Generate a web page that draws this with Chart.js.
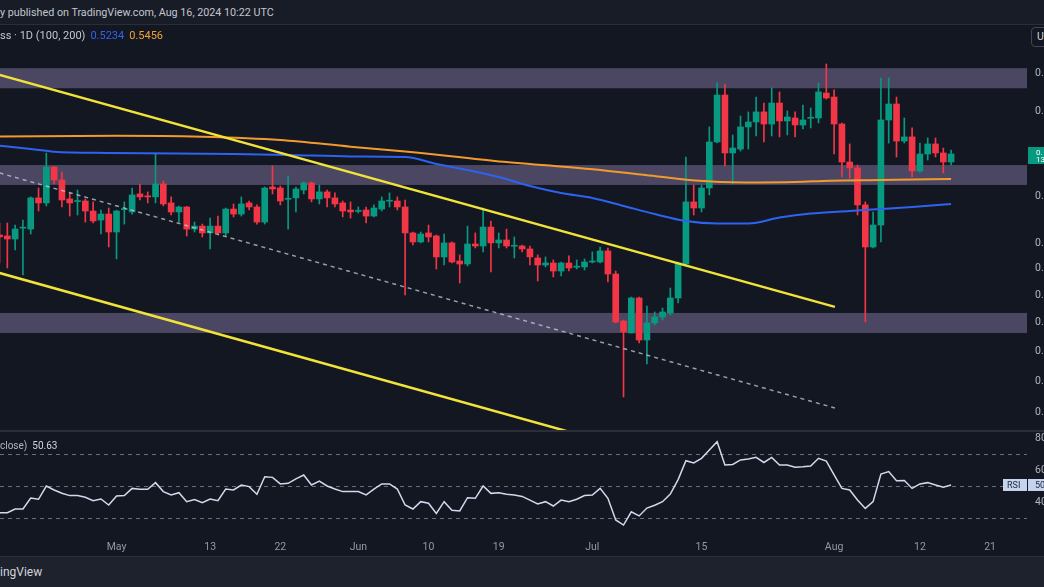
<!DOCTYPE html>
<html lang="en">
<head>
<meta charset="UTF-8" />
<title>XRP 1D</title>
<script src="https://cdn.jsdelivr.net/npm/chart.js"></script>
<style>
  body {
    margin: 0;
    width: 1044px;
    height: 587px;
    overflow: hidden;
    position: relative;
    background: #131722;
    font-family: Roboto, 'Liberation Sans', sans-serif;
    color: #b2b5be;
  }
  .abs { position: absolute; white-space: nowrap; }
  #top {
    left: 0; top: 0; width: 1044px; height: 25px;
    background: #181c27; border-bottom: 1px solid #2a2e39; box-sizing: border-box;
    font-size: 10.75px; line-height: 25px; color: #c3c6ce;
  }
  #legend { left: 0; top: 29px; font-size: 11px; line-height: 14px; color: #c3c6ce; z-index: 2; }
  #legend .blue { color: #3461f0; margin-left: 5px; }
  #legend .orange { color: #f5a033; margin-left: 5px; }
  #ubtn {
    left: 1031px; top: 27px; width: 22px; height: 20px; box-sizing: border-box;
    border: 1px solid #434651; border-radius: 4px; background: #131722;
    font-size: 10.5px; line-height: 18px; padding-left: 5px; color: #d1d4dc; z-index: 2;
  }
  #sep { left: 0; top: 430px; width: 1044px; height: 2px; background: #2a2e39; }
  #rsiLegend { left: 0; top: 439px; font-size: 10px; line-height: 13px; color: #b2b5be; z-index: 2; }
  #rsiLegend b { font-weight: normal; color: #d1d4dc; margin-left: 5px; }
  #foot {
    left: 0; top: 556px; width: 1044px; height: 31px;
    background: #1e222d; border-top: 1px solid #2a2e39; box-sizing: border-box;
    font-size: 12px; line-height: 30px; color: #d1d4dc;
  }
</style>
</head>
<body>

<div id="top" class="abs">y published on TradingView.com, Aug 16, 2024 10:22 UTC</div>
<div id="legend" class="abs">ss · 1D (100, 200)<span class="blue">0.5234</span><span class="orange">0.5456</span></div>
<div id="ubtn" class="abs">U</div>
<canvas id="priceChart" class="abs" width="1044" height="405" style="left:0;top:25px"></canvas>
<div id="sep" class="abs"></div>
<div id="rsiLegend" class="abs">close)<b>50.63</b></div>
<canvas id="rsiChart" class="abs" width="1044" height="124" style="left:0;top:432px"></canvas>
<div id="foot" class="abs">ingView</div>

<script>
  // daily candles, Apr 16 -> Aug 16 2024
  const firstDate = '2024-04-16';

  const open = [
    0.4971, 0.4963, 0.4938, 0.5028, 0.5020, 0.5287, 0.5243, 0.5566, 0.5447, 0.5278,
    0.5255, 0.5260, 0.5173, 0.5096, 0.5147, 0.4996, 0.5185, 0.5165, 0.5322, 0.5305,
    0.5296, 0.5411, 0.5243, 0.5165, 0.5208, 0.5020, 0.5045, 0.4988, 0.5045, 0.4988,
    0.5190, 0.5147, 0.5243, 0.5208, 0.5079, 0.5384, 0.5375, 0.5275, 0.5287, 0.5357,
    0.5420, 0.5278, 0.5340, 0.5287, 0.5243, 0.5182, 0.5170, 0.5182, 0.5130, 0.5190,
    0.5258, 0.5260, 0.5208, 0.4988, 0.4914, 0.4988, 0.4963, 0.4793, 0.4906, 0.4761,
    0.4737, 0.4897, 0.4881, 0.5037, 0.4906, 0.4930, 0.4879, 0.4881, 0.4857, 0.4785,
    0.4729, 0.4745, 0.4682, 0.4745, 0.4712, 0.4714, 0.4753, 0.4753, 0.4841, 0.4659,
    0.4309, 0.4224, 0.4477, 0.4175, 0.4295, 0.4338, 0.4367, 0.4477, 0.4737, 0.5252,
    0.5199, 0.5375, 0.5802, 0.6273, 0.5697, 0.5734, 0.5949, 0.5998, 0.6099, 0.5978,
    0.6190, 0.6008, 0.6038, 0.5968, 0.6035, 0.6038, 0.6294, 0.6252, 0.5978, 0.5612,
    0.5557, 0.5226, 0.4873, 0.5054, 0.6018, 0.6180, 0.5811, 0.5851, 0.5529, 0.5687,
    0.5783, 0.5697, 0.5612
  ];
  const high = [
    0.5071, 0.5071, 0.5054, 0.5096, 0.5296, 0.5375, 0.5696, 0.5570, 0.5519, 0.5331,
    0.5357, 0.5278, 0.5252, 0.5182, 0.5199, 0.5180, 0.5252, 0.5375, 0.5411, 0.5340,
    0.5696, 0.5438, 0.5296, 0.5215, 0.5212, 0.5079, 0.5062, 0.5113, 0.5130, 0.5199,
    0.5234, 0.5296, 0.5260, 0.5226, 0.5384, 0.5575, 0.5393, 0.5483, 0.5384, 0.5429,
    0.5429, 0.5402, 0.5357, 0.5331, 0.5260, 0.5252, 0.5208, 0.5208, 0.5226, 0.5296,
    0.5331, 0.5296, 0.5269, 0.4996, 0.4996, 0.5054, 0.4971, 0.4979, 0.4914, 0.4809,
    0.5045, 0.4988, 0.5199, 0.5088, 0.4988, 0.5020, 0.4955, 0.4889, 0.4881, 0.4809,
    0.4793, 0.4769, 0.4753, 0.4801, 0.4769, 0.4777, 0.4833, 0.4873, 0.4865, 0.4682,
    0.4316, 0.4484, 0.4484, 0.4418, 0.4374, 0.4403, 0.4552, 0.4753, 0.5659, 0.5402,
    0.5402, 0.5949, 0.6400, 0.6389, 0.5870, 0.6058, 0.6099, 0.6252, 0.6190, 0.6347,
    0.6305, 0.6109, 0.6099, 0.6170, 0.6139, 0.6400, 0.6605, 0.6326, 0.5988, 0.5783,
    0.5584, 0.5252, 0.5165, 0.6453, 0.6453, 0.6252, 0.6038, 0.5939, 0.5792, 0.5841,
    0.5841, 0.5744, 0.5725
  ];
  const low = [
    0.4745, 0.4706, 0.4849, 0.4651, 0.4979, 0.5173, 0.5217, 0.5411, 0.5208, 0.5130,
    0.5139, 0.5079, 0.5071, 0.4979, 0.4873, 0.4777, 0.5062, 0.5147, 0.5269, 0.5243,
    0.5243, 0.5217, 0.5139, 0.5079, 0.4963, 0.4996, 0.4955, 0.4857, 0.4979, 0.4963,
    0.5122, 0.5130, 0.5182, 0.5062, 0.5062, 0.5322, 0.5226, 0.5020, 0.5165, 0.5322,
    0.5252, 0.5234, 0.5208, 0.5208, 0.5122, 0.5113, 0.5156, 0.5071, 0.5122, 0.5173,
    0.5208, 0.5182, 0.4499, 0.4889, 0.4906, 0.4914, 0.4698, 0.4729, 0.4745, 0.4590,
    0.4721, 0.4865, 0.4833, 0.4675, 0.4865, 0.4865, 0.4785, 0.4833, 0.4729, 0.4605,
    0.4714, 0.4636, 0.4644, 0.4682, 0.4698, 0.4690, 0.4745, 0.4745, 0.4598, 0.4295,
    0.3798, 0.4224, 0.4155, 0.4012, 0.4281, 0.4316, 0.4352, 0.4440, 0.4729, 0.5139,
    0.5165, 0.5313, 0.5792, 0.5575, 0.5411, 0.5715, 0.5734, 0.5860, 0.5802, 0.5860,
    0.5851, 0.5870, 0.5851, 0.5929, 0.5939, 0.5988, 0.6231, 0.5687, 0.5474, 0.5465,
    0.5139, 0.4302, 0.4865, 0.4914, 0.5792, 0.5659, 0.5792, 0.5474, 0.5519, 0.5631,
    0.5659, 0.5510, 0.5584
  ];
  const close = [
    0.4955, 0.4938, 0.5020, 0.5030, 0.5287, 0.5243, 0.5566, 0.5447, 0.5269, 0.5243,
    0.5260, 0.5173, 0.5088, 0.5147, 0.4996, 0.5173, 0.5190, 0.5313, 0.5296, 0.5296,
    0.5411, 0.5234, 0.5165, 0.5208, 0.5020, 0.5045, 0.4988, 0.5045, 0.4988, 0.5190,
    0.5147, 0.5234, 0.5208, 0.5079, 0.5375, 0.5366, 0.5260, 0.5280, 0.5366, 0.5420,
    0.5278, 0.5340, 0.5287, 0.5234, 0.5173, 0.5165, 0.5175, 0.5130, 0.5199, 0.5260,
    0.5262, 0.5208, 0.4988, 0.4914, 0.4979, 0.4955, 0.4793, 0.4906, 0.4753, 0.4737,
    0.4897, 0.4881, 0.5037, 0.4906, 0.4930, 0.4881, 0.4883, 0.4857, 0.4793, 0.4729,
    0.4745, 0.4682, 0.4745, 0.4706, 0.4716, 0.4753, 0.4761, 0.4841, 0.4659, 0.4302,
    0.4231, 0.4477, 0.4175, 0.4295, 0.4338, 0.4374, 0.4477, 0.4745, 0.5252, 0.5199,
    0.5375, 0.5802, 0.6273, 0.5697, 0.5744, 0.5949, 0.5998, 0.6099, 0.5978, 0.6190,
    0.6008, 0.6048, 0.5968, 0.6018, 0.6040, 0.6305, 0.6242, 0.5978, 0.5612, 0.5557,
    0.5226, 0.4873, 0.5054, 0.6018, 0.6180, 0.5811, 0.5851, 0.5529, 0.5687, 0.5783,
    0.5697, 0.5612, 0.5687
  ];
  // RSI (14, close)
  const rsi = [
    33.3, 33.3, 35.6, 35.6, 42.5, 41.7, 50.0, 47.5, 45.5, 44.0,
    44.0, 43.0, 40.8, 41.9, 38.1, 43.7, 44.0, 48.5, 47.9, 47.9,
    52.1, 46.5, 44.4, 45.8, 40.2, 41.5, 39.6, 41.9, 40.8, 48.1,
    47.5, 50.6, 49.6, 44.8, 55.8, 55.4, 51.3, 51.7, 54.5, 56.9,
    50.6, 53.1, 50.0, 48.1, 46.5, 46.5, 46.5, 44.4, 48.0, 51.3,
    51.3, 48.1, 38.1, 35.6, 40.2, 39.2, 32.9, 40.2, 34.8, 34.4,
    42.7, 42.3, 50.0, 45.4, 45.8, 44.8, 44.4, 43.5, 41.2, 38.8,
    40.2, 37.5, 41.2, 40.2, 41.7, 44.0, 44.4, 48.5, 42.3, 28.8,
    25.6, 33.9, 31.3, 36.2, 38.0, 40.2, 45.0, 54.0, 65.8, 64.4,
    67.3, 72.5, 77.7, 63.1, 63.5, 66.3, 66.9, 67.9, 64.7, 67.9,
    63.1, 63.1, 61.7, 62.0, 62.5, 67.3, 65.6, 56.9, 48.5, 47.5,
    41.2, 36.0, 40.2, 57.5, 59.0, 53.3, 53.5, 48.5, 51.3, 52.1,
    50.6, 49.2, 50.63
  ];

  // moving averages: [day from May 1, value]
  const ma100 = [
    [-15, 0.5766], [-11, 0.5735], [-8, 0.5709], [-1, 0.5697], [15, 0.5687], [22, 0.5678],
    [30, 0.5664], [37, 0.5659], [41, 0.5594], [45, 0.5538], [49, 0.5474], [53, 0.5393],
    [57, 0.5331], [61, 0.5287], [65, 0.5217], [69, 0.5147], [73, 0.5088], [77, 0.5067],
    [81, 0.5067], [85, 0.5117], [89, 0.5151], [94, 0.5173], [98, 0.5190], [102, 0.5208], [107, 0.5234]
  ];
  const ma200 = [
    [-15, 0.5855], [0, 0.5863], [11, 0.5853], [21, 0.5821], [30, 0.5757], [37, 0.5711],
    [48.5, 0.5622], [60.7, 0.5547], [67.8, 0.5493], [74.2, 0.5442], [80.6, 0.5425],
    [87, 0.5429], [91.5, 0.5441], [98, 0.5447], [107, 0.5456]
  ];

  // drawings
  const trendUpper = [[-15, 0.6486], [92.1, 0.4411]];
  const trendLower = [[-15, 0.4667], [62, 0.3533]];
  const channelMid = [[-15, 0.5511], [92.1, 0.3729]];
  const zones = [[0.6344, 0.6559], [0.5402, 0.5584], [0.4224, 0.4367]];

  const priceTicks = [0.65, 0.61, 0.53, 0.49, 0.47, 0.45, 0.43, 0.41, 0.39, 0.37];
  const rsiTicks = [80, 60, 40];
  const rsiLevels = [70, 50, 30];
  const tickDays = [0, 12, 21, 31, 40, 49, 61, 75, 92, 103, 112];
  const tickLabels = ['May', '13', '22', 'Jun', '10', '19', 'Jul', '15', 'Aug', '12', '21'];

  const X_MIN = -14.94, X_MAX = 116.73;
  const P_MIN = 0.3595, P_MAX = 0.7047;
  const UP = '#089981', DOWN = '#f23645';
  const FONT = "Roboto, 'Liberation Sans', sans-serif";

  const offset = Math.round((Date.UTC(2024, 3, 16) - Date.UTC(2024, 4, 1)) / 864e5);
  const days = open.map((_, i) => offset + i);
  const colors = open.map((o, i) => close[i] >= o ? UP : DOWN);
  const pts = arr => arr.map(p => ({ x: p[0], y: p[1] }));

  function tightY(scale) {
    scale.width = 17;
    scale.paddingTop = 0;
    scale.paddingBottom = 0;
  }

  const zonePlugin = {
    id: 'zones',
    beforeDatasetsDraw(chart) {
      const { ctx, chartArea: a, scales: { y } } = chart;
      ctx.save();
      ctx.fillStyle = '#4b4763';
      zones.forEach(([lo, hi]) => {
        const y1 = y.getPixelForValue(hi), y2 = y.getPixelForValue(lo);
        ctx.fillRect(a.left, y1, a.right - a.left, y2 - y1);
      });
      ctx.restore();
    },
    afterDraw(chart) {
      // last price tag on the price scale
      const { ctx, chartArea: a, scales: { y } } = chart;
      const py = y.getPixelForValue(close[close.length - 1]);
      ctx.save();
      ctx.fillStyle = UP;
      ctx.fillRect(a.right + 1, py - 7, 20, 17);
      ctx.fillStyle = '#ffffff';
      ctx.font = '8px ' + FONT;
      ctx.textBaseline = 'middle';
      ctx.fillText('0.', a.right + 9, py - 1);
      ctx.fillText('13', a.right + 9, py + 5.5);
      ctx.restore();
    }
  };

  new Chart(document.getElementById('priceChart'), {
    type: 'bar',
    data: {
      datasets: [
        { type: 'line', data: pts(trendUpper), borderColor: '#f2e33a', borderWidth: 2.5, pointRadius: 0, order: 0 },
        { type: 'line', data: pts(trendLower), borderColor: '#f2e33a', borderWidth: 2.5, pointRadius: 0, order: 0 },
        { type: 'line', data: pts(channelMid), borderColor: 'rgba(200,204,216,0.75)', borderWidth: 1.5,
          borderDash: [4, 4], pointRadius: 0, order: 0 },
        { type: 'line', data: pts(ma100), borderColor: '#2e62f0', borderWidth: 2, pointRadius: 0,
          cubicInterpolationMode: 'monotone', order: 0 },
        { type: 'line', data: pts(ma200), borderColor: '#f39a2e', borderWidth: 2, pointRadius: 0,
          cubicInterpolationMode: 'monotone', order: 0 },
        { data: days.map((d, i) => ({ x: d, y: [open[i], close[i]] })), backgroundColor: colors,
          barThickness: 6, minBarLength: 1, grouped: false, order: 1 },
        { data: days.map((d, i) => ({ x: d, y: [low[i], high[i]] })), backgroundColor: colors,
          barThickness: 1, grouped: false, order: 2 }
      ]
    },
    options: {
      responsive: false,
      animation: false,
      devicePixelRatio: 1,
      layout: { padding: 0 },
      plugins: { legend: { display: false }, tooltip: { enabled: false } },
      scales: {
        x: { type: 'linear', min: X_MIN, max: X_MAX, offset: false, display: false },
        y: {
          type: 'logarithmic', position: 'right', min: P_MIN, max: P_MAX,
          grid: { display: false, drawTicks: false }, border: { display: false },
          afterFit: tightY,
          afterBuildTicks: s => { s.ticks = priceTicks.map(v => ({ value: v })); },
          ticks: {
            autoSkip: false, padding: 8, color: '#b2b5be', font: { family: FONT, size: 10.5 },
            callback: v => v.toFixed(4).slice(0, 2)   // cut off by the picture edge
          }
        }
      }
    },
    plugins: [zonePlugin]
  });

  const rsiPlugin = {
    id: 'rsiBands',
    beforeDatasetsDraw(chart) {
      const { ctx, chartArea: a, scales: { y } } = chart;
      ctx.save();
      ctx.strokeStyle = '#6b6e78';
      ctx.lineWidth = 1;
      ctx.setLineDash([4, 4]);
      rsiLevels.forEach(v => {
        const py = Math.round(y.getPixelForValue(v)) + 0.5;
        ctx.beginPath();
        ctx.moveTo(a.left, py);
        ctx.lineTo(a.right, py);
        ctx.stroke();
      });
      ctx.restore();
    },
    afterDraw(chart) {
      const { ctx, chartArea: a, scales: { y } } = chart;
      const py = y.getPixelForValue(rsi[rsi.length - 1]);
      ctx.save();
      ctx.fillStyle = '#c6d3ef';
      ctx.fillRect(a.right - 24, py - 6, 24, 12);
      ctx.fillRect(a.right + 1, py - 6, 20, 12);
      ctx.fillStyle = '#1f2433';
      ctx.font = '9px ' + FONT;
      ctx.textBaseline = 'middle';
      ctx.fillText('RSI', a.right - 20, py + 0.5);
      ctx.fillText('50', a.right + 8, py + 0.5);
      ctx.restore();
    }
  };

  new Chart(document.getElementById('rsiChart'), {
    type: 'line',
    data: {
      datasets: [{
        data: days.map((d, i) => ({ x: d, y: rsi[i] })),
        borderColor: '#d3d8ec', borderWidth: 1.5, pointRadius: 0, tension: 0
      }]
    },
    options: {
      responsive: false,
      animation: false,
      devicePixelRatio: 1,
      layout: { padding: 0 },
      plugins: { legend: { display: false }, tooltip: { enabled: false } },
      scales: {
        x: {
          type: 'linear', min: X_MIN, max: X_MAX, offset: false,
          grid: { display: false, drawTicks: false }, border: { display: false },
          afterFit: s => { s.height = 26; s.paddingLeft = 0; s.paddingRight = 0; },
          afterBuildTicks: s => { s.ticks = tickDays.map(v => ({ value: v })); },
          ticks: {
            autoSkip: false, maxRotation: 0, padding: 11, color: '#9598a1',
            font: { family: FONT, size: 10.5 },
            callback: (v, i) => tickLabels[i]
          }
        },
        y: {
          type: 'linear', position: 'right', min: 22.5, max: 83.75,
          grid: { display: false, drawTicks: false }, border: { display: false },
          afterFit: tightY,
          afterBuildTicks: s => { s.ticks = rsiTicks.map(v => ({ value: v })); },
          ticks: { autoSkip: false, padding: 8, color: '#b2b5be', font: { family: FONT, size: 10.5 } }
        }
      }
    },
    plugins: [rsiPlugin]
  });
</script>

</body>
</html>
